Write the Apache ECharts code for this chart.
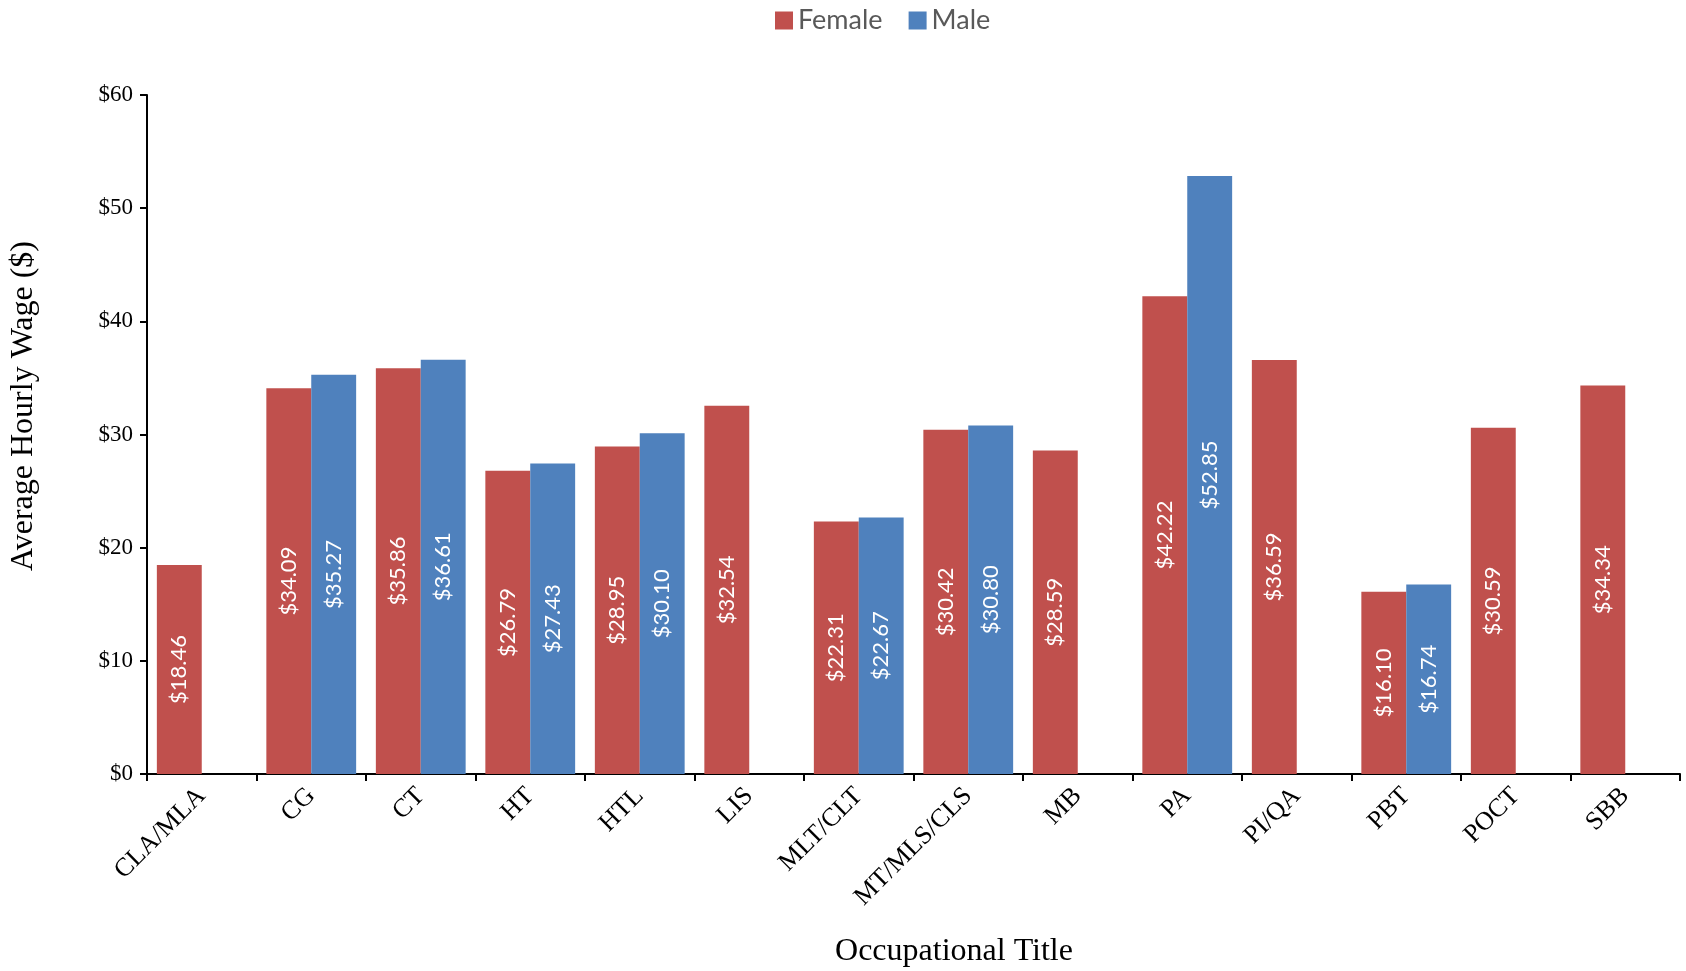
<!DOCTYPE html>
<html>
<head>
<meta charset="utf-8">
<script src="https://cdn.jsdelivr.net/npm/echarts@6/dist/echarts.min.js"></script>
<style>
  html, body { margin: 0; padding: 0; background: #fff; }
  #chart { width: 1686px; height: 971px; }
</style>
</head>
<body>
<div id="chart"></div>
<script>
// Occupational titles on the x axis
const categories = ['CLA/MLA', 'CG', 'CT', 'HT', 'HTL', 'LIS', 'MLT/CLT', 'MT/MLS/CLS', 'MB', 'PA', 'PI/QA', 'PBT', 'POCT', 'SBB'];
// Average hourly wage by sex (null where no value is reported)
const femaleWage = [18.46, 34.09, 35.86, 26.79, 28.95, 32.54, 22.31, 30.42, 28.59, 42.22, 36.59, 16.10, 30.59, 34.34];
const maleWage = [null, 35.27, 36.61, 27.43, 30.10, null, 22.67, 30.80, null, 52.85, null, 16.74, null, null];
const seriesNames = ['Female', 'Male'];
const yTicks = [0, 10, 20, 30, 40, 50, 60];

const chart = echarts.init(document.getElementById('chart'));
const serif = '"Liberation Serif", "Times New Roman", serif';
const sans = 'Lato, "Noto Sans", sans-serif';

const barLabel = {
  show: true,
  position: 'inside',
  rotate: 90,
  color: '#fff',
  fontFamily: sans,
  fontSize: 22,
  formatter: p => '$' + p.value.toFixed(2)
};

chart.setOption({
  animation: false,
  color: ['#C0504D', '#4F81BD'],
  legend: {
    data: seriesNames,
    top: 2,
    left: 770,
    icon: 'rect',
    itemWidth: 18,
    itemHeight: 18,
    itemGap: 26,
    textStyle: { color: '#595959', fontFamily: sans, fontSize: 27 }
  },
  grid: { left: 147, right: 6, top: 95, bottom: 197, containLabel: false },
  xAxis: {
    type: 'category',
    data: categories,
    axisLine: { lineStyle: { color: '#000', width: 2 } },
    axisTick: { show: true, length: 7, lineStyle: { color: '#000', width: 2 } },
    axisLabel: { rotate: 45, margin: 18, color: '#000', fontFamily: serif, fontSize: 26 }
  },
  yAxis: {
    type: 'value',
    min: yTicks[0],
    max: yTicks[yTicks.length - 1],
    interval: 10,
    splitLine: { show: false },
    axisLine: { show: true, lineStyle: { color: '#000', width: 2 } },
    axisTick: { show: true, length: 7, lineStyle: { color: '#000', width: 2 } },
    axisLabel: { margin: 14, color: '#000', fontFamily: serif, fontSize: 23, formatter: v => '$' + v }
  },
  graphic: [
    {
      type: 'text',
      x: 24, y: 406,
      rotation: Math.PI / 2,
      style: {
        text: 'Average Hourly Wage ($)',
        fill: '#000', font: '32px ' + serif,
        align: 'center', verticalAlign: 'middle'
      }
    },
    {
      type: 'text',
      x: 954, y: 952,
      style: {
        text: 'Occupational Title',
        fill: '#000', font: '32px ' + serif,
        align: 'center', verticalAlign: 'middle'
      }
    }
  ],
  series: [
    { name: seriesNames[0], type: 'bar', data: femaleWage, barGap: '0%', barCategoryGap: '18%', label: barLabel },
    { name: seriesNames[1], type: 'bar', data: maleWage, barGap: '0%', barCategoryGap: '18%', label: barLabel }
  ]
});
</script>
</body>
</html>
